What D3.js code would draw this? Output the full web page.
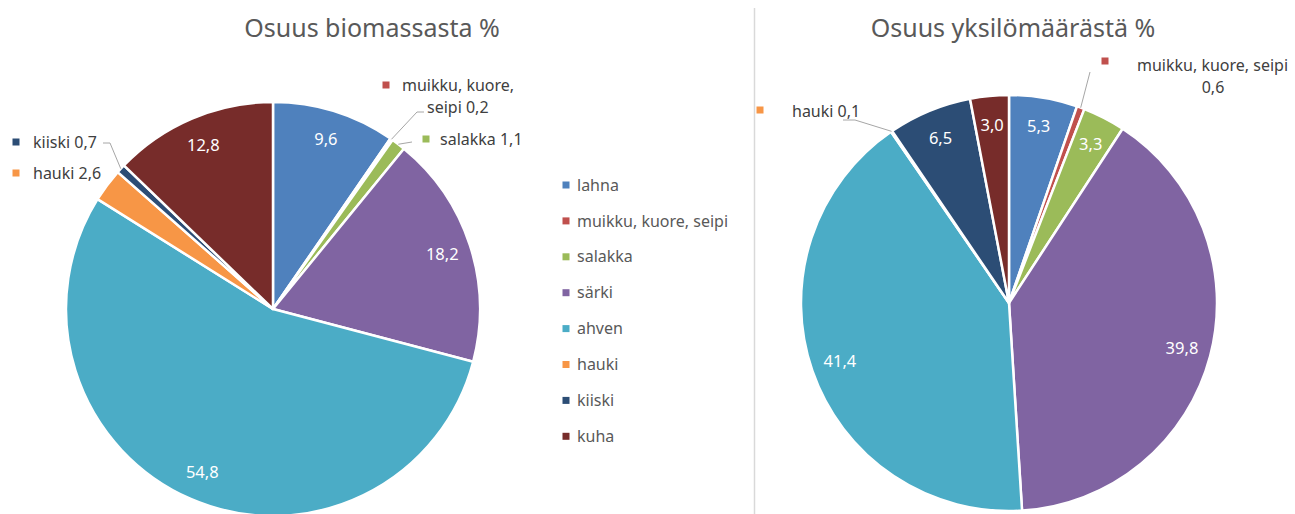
<!DOCTYPE html>
<html>
<head>
<meta charset="utf-8">
<script src="https://cdn.jsdelivr.net/npm/d3@7"></script>
<style>
  html, body { margin: 0; padding: 0; background: #fff; }
  svg { display: block; font-family: 'Noto Sans', 'Open Sans', sans-serif; }
</style>
</head>
<body>
<div id="chart"></div>
<script>
// ── Data ──
const species = ['lahna', 'muikku, kuore, seipi', 'salakka', 'särki', 'ahven', 'hauki', 'kiiski', 'kuha'];
const biomassShare = [9.6, 0.2, 1.1, 18.2, 54.8, 2.6, 0.7, 12.8];
const countShare = [5.3, 0.6, 3.3, 39.8, 41.4, 0.1, 6.5, 3.0];
const chartTitles = ['Osuus biomassasta %', 'Osuus yksilömäärästä %'];
const seriesColors = ['#4F81BD', '#C0504D', '#9BBB59', '#8064A2', '#4BACC6', '#F79646', '#2C4D75', '#772C2A'];

const WIDTH = 1295;
const HEIGHT = 514;
const TEXT_GREY = '#595959';
const SMALL_FONT = '16px';
const fmt = v => d3.format('.1f')(v).replace('.', ',');

// Layout of each pie and its outside (callout) labels
const pies = [
  {
    values: biomassShare, title: chartTitles[0], cx: 273, cy: 309, r: 207, titleX: 372,
    outside: {
      1: { key: [386, 85], lines: [[402, 91, 'start'], [427, 113, 'start']], breakWords: 2, leader: [[417, 112], [424, 112]] },
      2: { key: [426, 139], lines: [[440, 145, 'start']], leader: [[412, 142]] },
      5: { key: [16, 173], lines: [[33, 179, 'start']], leader: null },
      6: { key: [16, 142], lines: [[33, 148, 'start']], leader: [[110, 143], [103, 143]] }
    }
  },
  {
    values: countShare, title: chartTitles[1], cx: 1009, cy: 303, r: 208, titleX: 1013,
    outside: {
      1: { key: [1105, 61], lines: [[1137, 71, 'start'], [1213, 93, 'middle']], breakWords: 3, leader: [[1090, 72]] },
      5: { key: [760, 110], lines: [[792, 117, 'start']], leader: [[855, 120], [843, 120]] }
    }
  }
];

const svg = d3.select('#chart').append('svg')
  .attr('width', WIDTH)
  .attr('height', HEIGHT);

// divider between the two charts
svg.append('line')
  .attr('x1', 754.5).attr('x2', 754.5)
  .attr('y1', 8).attr('y2', HEIGHT)
  .attr('stroke', '#d9d9d9')
  .attr('stroke-width', 1.5);

const pie = d3.pie().sort(null).value(d => d);

pies.forEach(p => {
  const arcs = pie(p.values);
  const g = svg.append('g').attr('transform', `translate(${p.cx},${p.cy})`);

  const arc = d3.arc().innerRadius(0).outerRadius(p.r);
  const labelArc = d3.arc().innerRadius(p.r * 0.86).outerRadius(p.r * 0.86);
  const edgeArc = d3.arc().innerRadius(p.r).outerRadius(p.r);

  g.selectAll('path.slice')
    .data(arcs)
    .enter()
    .append('path')
    .attr('class', 'slice')
    .attr('d', arc)
    .attr('fill', (d, i) => seriesColors[i])
    .attr('stroke', '#fff')
    .attr('stroke-width', 2.5)
    .attr('stroke-linejoin', 'round');

  // inside labels
  g.selectAll('text.inside')
    .data(arcs.filter((d, i) => !p.outside[i]))
    .enter()
    .append('text')
    .attr('class', 'inside')
    .attr('transform', d => `translate(${labelArc.centroid(d)})`)
    .attr('text-anchor', 'middle')
    .attr('dy', '0.35em')
    .attr('fill', '#fff')
    .attr('font-size', '16.5px')
    .text(d => fmt(d.value));

  // title
  svg.append('text')
    .attr('x', p.titleX)
    .attr('y', 37)
    .attr('text-anchor', 'middle')
    .attr('fill', TEXT_GREY)
    .attr('font-size', '25px')
    .text(p.title);

  // outside labels with legend keys and leader lines
  arcs.forEach((d, i) => {
    const o = p.outside[i];
    if (!o) return;
    if (o.leader) {
      const start = edgeArc.centroid(d);
      const pts = [[start[0] + p.cx, start[1] + p.cy]].concat(o.leader);
      svg.append('path')
        .attr('d', d3.line()(pts))
        .attr('fill', 'none')
        .attr('stroke', '#a6a6a6')
        .attr('stroke-width', 1);
    }
    svg.append('rect')
      .attr('x', o.key[0] - 3.5).attr('y', o.key[1] - 3.5)
      .attr('width', 7).attr('height', 7)
      .attr('fill', seriesColors[i]);

    const words = `${species[i]} ${fmt(d.value)}`.split(' ');
    const parts = o.breakWords
      ? [words.slice(0, o.breakWords).join(' '), words.slice(o.breakWords).join(' ')]
      : [words.join(' ')];
    parts.forEach((txt, k) => {
      const [lx, ly, anchor] = o.lines[k];
      svg.append('text')
        .attr('x', lx).attr('y', ly)
        .attr('text-anchor', anchor)
        .attr('fill', '#404040')
        .attr('font-size', SMALL_FONT)
        .text(txt);
    });
  });
});

// ── Legend ──
const legend = svg.append('g').attr('transform', 'translate(566,185)');
const rows = legend.selectAll('g')
  .data(species)
  .enter()
  .append('g')
  .attr('transform', (d, i) => `translate(0,${i * 35.9})`);

rows.append('rect')
  .attr('x', -3.5).attr('y', -3.5)
  .attr('width', 7).attr('height', 7)
  .attr('fill', (d, i) => seriesColors[i]);

rows.append('text')
  .attr('x', 11)
  .attr('dy', '0.35em')
  .attr('fill', TEXT_GREY)
  .attr('font-size', SMALL_FONT)
  .text(d => d);
</script>
</body>
</html>
